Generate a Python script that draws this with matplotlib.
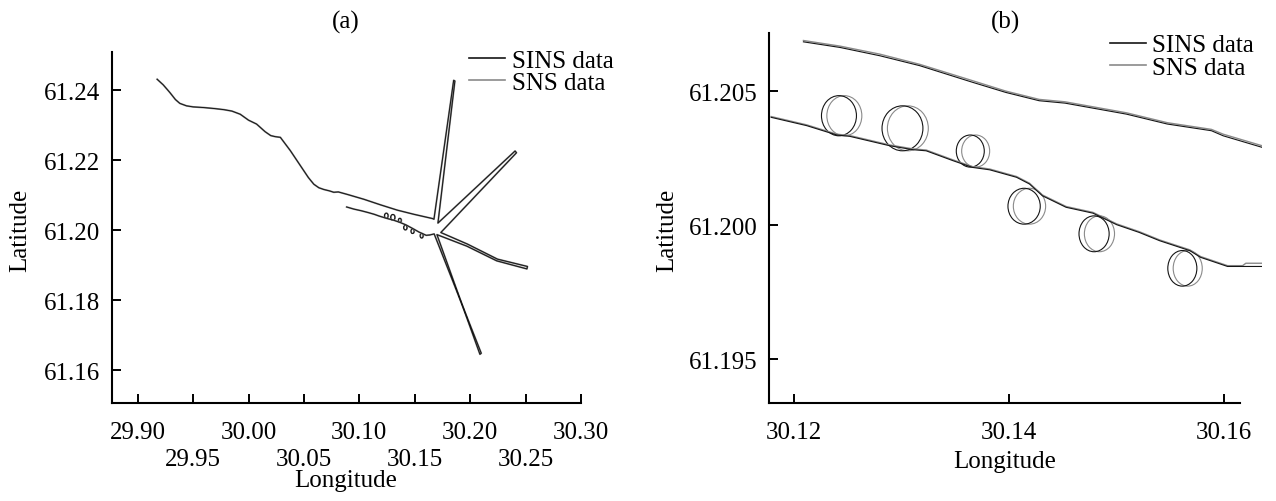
import matplotlib
matplotlib.use('Agg')
import matplotlib.pyplot as plt
from matplotlib.patches import Ellipse

plt.rcParams['font.family'] = ['Liberation Serif', 'DejaVu Serif']
plt.rcParams['font.size'] = 18

# ---- panel (a): whole route, SINS and SNS coincide at this scale ----
route_lon = [29.9175, 29.9230, 29.9290, 29.9340, 29.9380, 29.9440, 29.9500, 29.9600,
             29.9700, 29.9780, 29.9850, 29.9925, 30.0000, 30.0072, 30.0150, 30.0200,
             30.0240, 30.0287, 30.0377, 30.0468, 30.0540, 30.0589, 30.0634, 30.0679,
             30.0730, 30.0769, 30.0810, 30.0890, 30.1041, 30.1192, 30.1342, 30.1493,
             30.1659,
             30.1673, 30.1851, 30.1862, 30.1709,
             30.2405, 30.2418, 30.1735,
             30.1975, 30.2246, 30.2517, 30.2512, 30.2240, 30.1970, 30.1700,
             30.2088, 30.2100, 30.1675,
             30.1635, 30.1603, 30.1540, 30.1478, 30.1419, 30.1366, 30.1311, 30.1252,
             30.1179, 30.1135, 30.1080, 30.1020, 30.0950, 30.0885]
route_lat = [61.2431, 61.2415, 61.2393, 61.2373, 61.2362, 61.2355, 61.2352, 61.2350,
             61.2347, 61.2344, 61.2340, 61.2331, 61.2314, 61.2303, 61.2281, 61.2270,
             61.2267, 61.2265, 61.2227, 61.2184, 61.2150, 61.2131, 61.2121, 61.2116,
             61.2112, 61.2108, 61.2109, 61.2102, 61.2088, 61.2072, 61.2057, 61.2045,
             61.2033,
             61.2031, 61.2428, 61.2426, 61.2020,
             61.2226, 61.2221, 61.1993,
             61.1960, 61.1917, 61.1896, 61.1889, 61.1912, 61.1954, 61.1987,
             61.1645, 61.1648, 61.1989,
             61.1986, 61.1985, 61.1994, 61.2005, 61.2015, 61.2022, 61.2028, 61.2033,
             61.2040, 61.2045, 61.2050, 61.2055, 61.2060, 61.2066]

# ---- panel (b): detail of the two parallel tracks ----
upper_lon = [30.1209, 30.1243, 30.1280, 30.1317, 30.1366, 30.1397, 30.1428,
             30.1452, 30.1509, 30.1547, 30.1588, 30.1599, 30.1635]
upper_lat_sins = [61.20685, 61.20664, 61.20633, 61.20596, 61.20534, 61.20496, 61.20465,
                  61.20456, 61.20415, 61.20378, 61.20353, 61.20334, 61.20291]
upper_lat_sns = [61.20690, 61.20669, 61.20639, 61.20601, 61.20540, 61.20501, 61.20470,
                 61.20461, 61.20420, 61.20383, 61.20358, 61.20340, 61.20297]

lower_lon = [30.1179, 30.1212, 30.1240, 30.1252, 30.1289, 30.1311, 30.1323, 30.1348,
             30.1366, 30.1382, 30.1407, 30.1419, 30.1431, 30.1453, 30.1478, 30.1500,
             30.1521, 30.1540, 30.1568, 30.1578, 30.1603, 30.1617, 30.1620, 30.1635]
lower_lat_sins = [61.20403, 61.20372, 61.20337, 61.20332, 61.20297, 61.20282, 61.20278,
                  61.20241, 61.20216, 61.20207, 61.20179, 61.20154, 61.20110, 61.20067,
                  61.20045, 61.20002, 61.19973, 61.19942, 61.19905, 61.19880, 61.19846,
                  61.19846, 61.19846, 61.19846]
lower_lat_sns = [61.20406, 61.20375, 61.20340, 61.20335, 61.20300, 61.20285, 61.20281,
                 61.20244, 61.20219, 61.20210, 61.20182, 61.20157, 61.20113, 61.20070,
                 61.20048, 61.20005, 61.19976, 61.19945, 61.19908, 61.19883, 61.19849,
                 61.19849, 61.19858, 61.19858]

# circulation loops on the lower track (centre, size in degrees)
loop_lon_sins = [30.1242, 30.1301, 30.1364, 30.1414, 30.1479, 30.1561]
loop_lon_sns = [30.1247, 30.1306, 30.1369, 30.1419, 30.1484, 30.1566]
loop_lat = [61.20409, 61.20362, 61.20277, 61.20071, 61.19968, 61.19839]
loop_width = [0.00325, 0.0038, 0.0026, 0.0030, 0.0028, 0.0027]
loop_height = [0.0015, 0.00168, 0.0012, 0.00134, 0.00134, 0.00133]

SINS_COLOR = '#151515'
SNS_COLOR = '#8a8a8a'
FS = 18


def style_axes(ax):
    """Left/bottom spines, inward ticks."""
    for side in ['top', 'right']:
        ax.spines[side].set_visible(False)
    for side in ['left', 'bottom']:
        ax.spines[side].set_linewidth(1.5)
    ax.tick_params(axis='both', which='both', direction='in', length=6.8,
                   width=1.4, labelsize=FS)
    ax.tick_params(axis='y', pad=8)
    ax.tick_params(axis='x', which='major', pad=13)


def draw_loops(ax, lw):
    for i in range(len(loop_lat)):
        ax.add_patch(Ellipse((loop_lon_sns[i], loop_lat[i]), loop_width[i], loop_height[i],
                             fill=False, edgecolor=SNS_COLOR, lw=lw))
        ax.add_patch(Ellipse((loop_lon_sins[i], loop_lat[i]), loop_width[i], loop_height[i],
                             fill=False, edgecolor=SINS_COLOR, lw=lw))


fig = plt.figure(figsize=(12.76, 5.02), dpi=100)

# panel (a)
ax1 = fig.add_axes([0.08754, 0.19462, 0.36779, 0.69920])
ax1.plot(route_lon, route_lat, color=SNS_COLOR, lw=1.3, label='SNS data')
ax1.plot(route_lon, route_lat, color=SINS_COLOR, lw=0.7, label='SINS data')
draw_loops(ax1, 0.8)
ax1.set_xlim(29.8765, 30.30)
ax1.set_ylim(61.1505, 61.2508)
ax1.set_xticks([29.90, 30.00, 30.10, 30.20, 30.30])
ax1.set_xticklabels(['29.90', '30.00', '30.10', '30.20', '30.30'])
ax1.set_xticks([29.95, 30.05, 30.15, 30.25], minor=True)
ax1.set_xticklabels(['29.95', '30.05', '30.15', '30.25'], minor=True)
ax1.set_yticks([61.16, 61.18, 61.20, 61.22, 61.24])
ax1.set_yticklabels(['61.16', '61.18', '61.20', '61.22', '61.24'])
style_axes(ax1)
ax1.tick_params(axis='x', which='minor', pad=32)

# panel (b)
ax2 = fig.add_axes([0.60266, 0.19522, 0.38636, 0.73705])
ax2.plot(upper_lon, upper_lat_sns, color=SNS_COLOR, lw=1.0)
ax2.plot(upper_lon, upper_lat_sins, color=SINS_COLOR, lw=0.8)
ax2.plot(lower_lon, lower_lat_sns, color=SNS_COLOR, lw=1.0)
ax2.plot(lower_lon, lower_lat_sins, color=SINS_COLOR, lw=0.8)
draw_loops(ax2, 0.8)
ax2.set_xlim(30.1177, 30.1635)
ax2.set_ylim(61.19336, 61.20718)
ax2.set_xticks([30.12, 30.14, 30.16])
ax2.set_xticklabels(['30.12', '30.14', '30.16'])
ax2.set_yticks([61.195, 61.200, 61.205])
ax2.set_yticklabels(['61.195', '61.200', '61.205'])
style_axes(ax2)
ax2.spines['bottom'].set_bounds(30.1177, 30.1615)

# legends
handles = [plt.Line2D([], [], color=SINS_COLOR, lw=1.2),
           plt.Line2D([], [], color=SNS_COLOR, lw=1.2)]
for ax, x0, y0 in [(ax1, 469 / 1276, 1 - 50 / 502), (ax2, 1110 / 1276, 1 - 35 / 502)]:
    ax.legend(handles, ['SINS data', 'SNS data'], loc='upper left',
              bbox_to_anchor=(x0, y0), bbox_transform=fig.transFigure,
              frameon=False, fontsize=FS, borderpad=0, borderaxespad=0,
              handlelength=1.45, handletextpad=0.25, labelspacing=0.0)

# titles and axis labels
fig.text(346 / 1276, 1 - 22 / 502, '(a)', ha='center', va='center', fontsize=FS)
fig.text(1005 / 1276, 1 - 22 / 502, '(b)', ha='center', va='center', fontsize=FS)
fig.text(346 / 1276, 1 - 481 / 502, 'Longitude', ha='center', va='center', fontsize=FS)
fig.text(1005 / 1276, 1 - 462 / 502, 'Longitude', ha='center', va='center', fontsize=FS)
fig.text(20 / 1276, 1 - 230 / 502, 'Latitude', ha='center', va='center',
         rotation=90, fontsize=FS)
fig.text(667 / 1276, 1 - 230 / 502, 'Latitude', ha='center', va='center',
         rotation=90, fontsize=FS)

fig.savefig('out.png', dpi=100)
